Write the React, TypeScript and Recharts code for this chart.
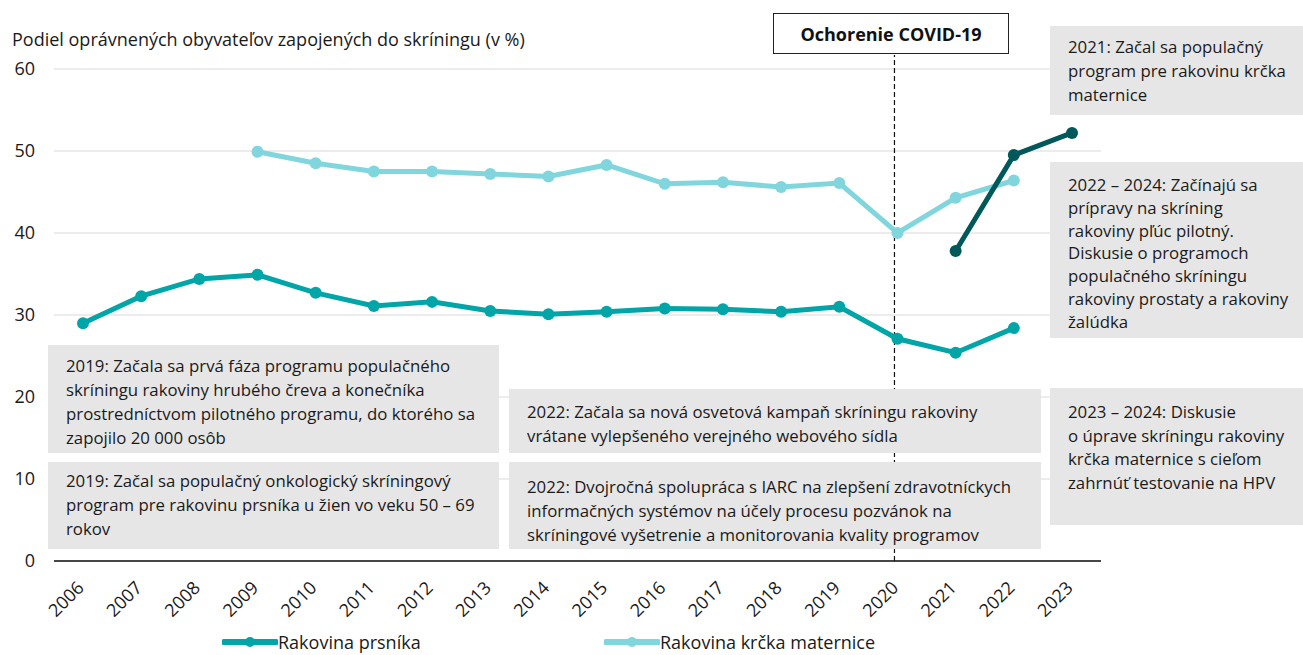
import React from "react";
import {
    CartesianGrid,
    Legend,
    Line,
    LineChart,
    ReferenceLine,
    XAxis,
    YAxis,
} from "recharts";

const years = ["2006", "2007", "2008", "2009", "2010", "2011", "2012", "2013", "2014", "2015", "2016", "2017", "2018", "2019", "2020", "2021", "2022", "2023"];
const breast = [29.0, 32.3, 34.4, 34.9, 32.7, 31.1, 31.6, 30.5, 30.1, 30.4, 30.8, 30.7, 30.4, 31.0, 27.1, 25.4, 28.4, null];
const cervical = [null, null, null, 49.9, 48.5, 47.5, 47.5, 47.2, 46.9, 48.3, 46.0, 46.2, 45.6, 46.1, 40.0, 44.3, 46.4, null];
const colorectal = [null, null, null, null, null, null, null, null, null, null, null, null, null, null, null, 37.8, 49.5, 52.2];
const yTicks = [0, 10, 20, 30, 40, 50, 60];

const yTitle = "Podiel oprávnených obyvateľov zapojených do skríningu (v %)";
const covidLabel = "Ochorenie COVID-19";
const breastName = "Rakovina prsníka";
const cervicalName = "Rakovina krčka maternice";

const noteColorectal2019 = [
    "2019: Začala sa prvá fáza programu populačného",
    "skríningu rakoviny hrubého čreva a konečníka",
    "prostredníctvom pilotného programu, do ktorého sa",
    "zapojilo 20 000 osôb",
];
const noteBreast2019 = [
    "2019: Začal sa populačný onkologický skríningový",
    "program pre rakovinu prsníka u žien vo veku 50 – 69",
    "rokov",
];
const noteCampaign2022 = [
    "2022: Začala sa nová osvetová kampaň skríningu rakoviny",
    "vrátane vylepšeného verejného webového sídla",
];
const noteIarc2022 = [
    "2022: Dvojročná spolupráca s IARC na zlepšení zdravotníckych",
    "informačných systémov na účely procesu pozvánok na",
    "skríningové vyšetrenie a monitorovania kvality programov",
];
const noteCervical2021 = [
    "2021: Začal sa populačný",
    "program pre rakovinu krčka",
    "maternice",
];
const noteLung2022 = [
    "2022 – 2024: Začínajú sa",
    "prípravy na skríning",
    "rakoviny pľúc pilotný.",
    "Diskusie o programoch",
    "populačného skríningu",
    "rakoviny prostaty a rakoviny",
    "žalúdka",
];
const noteHpv2023 = [
    "2023 – 2024: Diskusie",
    "o úprave skríningu rakoviny",
    "krčka maternice s cieľom",
    "zahrnúť testovanie na HPV",
];

const data = years.map((year, i) => ({
    year,
    breast: breast[i],
    cervical: cervical[i],
    colorectal: colorectal[i],
}));

const TEAL = "#00a5a8";
const LIGHT = "#80d6dc";
const DARK = "#00585a";
const TEXT = "#1a1a1a";
const FONT = "'Open Sans', sans-serif";

function Note({ lines, left, top, width, height, lineHeight = 24, padTop = 8 }: {
    lines: string[]; left: number; top: number; width: number; height: number; lineHeight?: number; padTop?: number;
}) {
    return (
        <div
            style={{
                position: "absolute",
                left,
                top,
                width,
                height,
                background: "#e6e6e6",
                boxSizing: "border-box",
                padding: `${padTop}px 0 0 18px`,
                fontSize: 16.8,
                lineHeight: `${lineHeight}px`,
                color: TEXT,
                whiteSpace: "nowrap",
            }}
        >
            {lines.map((l) => (
                <div key={l}>{l}</div>
            ))}
        </div>
    );
}

function XTick({ x, y, payload }: any) {
    return (
        <text
            transform={`translate(${x + 2},${y + 20}) rotate(-45)`}
            textAnchor="end"
            fontSize={18}
            fill={TEXT}
            fontFamily={FONT}
        >
            {payload.value}
        </text>
    );
}

function LegendContent() {
    const items = [
        { name: breastName, color: TEAL, left: 222 },
        { name: cervicalName, color: LIGHT, left: 604 },
    ];
    return (
        <div style={{ position: "relative", width: 1303, height: 26 }}>
            {items.map((it) => (
                <div
                    key={it.name}
                    style={{
                        position: "absolute",
                        left: it.left,
                        top: 1,
                        display: "flex",
                        alignItems: "center",
                        fontSize: 18,
                        color: TEXT,
                        fontFamily: FONT,
                    }}
                >
                    <svg width={56} height={14}>
                        <line x1={2} y1={7} x2={54} y2={7} stroke={it.color} strokeWidth={6} strokeLinecap="round" />
                        <circle cx={28} cy={7} r={5} fill={it.color} />
                    </svg>
                    <span>{it.name}</span>
                </div>
            ))}
        </div>
    );
}

export default function App() {
    return (
        <div style={{ position: "absolute", left: 0, top: 0, width: 1303, height: 655, fontFamily: FONT, background: "#fff" }}>
            <LineChart
                width={1303}
                height={655}
                data={data}
                margin={{ top: 69, right: 202, bottom: 0, left: 0 }}
            >
                <CartesianGrid vertical={false} stroke="#e6e6e6" strokeWidth={1.5} />
                <XAxis
                    dataKey="year"
                    height={68}
                    padding={{ left: 29, right: 29 }}
                    axisLine={{ stroke: "#111", strokeWidth: 1.5 }}
                    tickLine={false}
                    interval={0}
                    tick={<XTick />}
                />
                <YAxis
                    width={54}
                    domain={[0, 60]}
                    ticks={yTicks}
                    axisLine={false}
                    tickLine={false}
                    tickSize={0}
                    tickMargin={19}
                    tick={{ fill: TEXT, fontSize: 18, fontFamily: FONT }}
                />
                <ReferenceLine
                    segment={[{ x: "2020", y: 0 }, { x: "2020", y: 61.7 }]}
                    ifOverflow="visible"
                    stroke="#111"
                    strokeWidth={1.2}
                    strokeDasharray="5 3"
                    transform="translate(-3,0)"
                />
                <Legend verticalAlign="bottom" height={26} content={<LegendContent />} />
                <Line
                    dataKey="breast"
                    name={breastName}
                    stroke={TEAL}
                    strokeWidth={5}
                    dot={{ r: 6, fill: TEAL, stroke: TEAL, strokeWidth: 0 }}
                    activeDot={false}
                    isAnimationActive={false}
                />
                <Line
                    dataKey="cervical"
                    name={cervicalName}
                    stroke={LIGHT}
                    strokeWidth={5}
                    dot={{ r: 6, fill: LIGHT, stroke: LIGHT, strokeWidth: 0 }}
                    activeDot={false}
                    isAnimationActive={false}
                />
                <Line
                    dataKey="colorectal"
                    legendType="none"
                    stroke={DARK}
                    strokeWidth={5}
                    dot={{ r: 6, fill: DARK, stroke: DARK, strokeWidth: 0 }}
                    activeDot={false}
                    isAnimationActive={false}
                />
            </LineChart>

            <div style={{ position: "absolute", left: 12, top: 27, fontSize: 18, color: TEXT, whiteSpace: "nowrap" }}>
                {yTitle}
            </div>

            <div
                style={{
                    position: "absolute",
                    left: 773,
                    top: 13,
                    width: 236,
                    height: 41,
                    boxSizing: "border-box",
                    border: "1.5px solid #222",
                    background: "#fff",
                    display: "flex",
                    alignItems: "center",
                    justifyContent: "center",
                    fontWeight: 700,
                    fontSize: 18,
                    color: "#111",
                }}
            >
                {covidLabel}
            </div>

            <Note lines={noteColorectal2019} left={48} top={345} width={451} height={108} lineHeight={24} padTop={9} />
            <Note lines={noteBreast2019} left={48} top={462} width={451} height={87} lineHeight={24} padTop={7} />
            <Note lines={noteCampaign2022} left={509} top={389} width={532} height={64} lineHeight={24} padTop={11} />
            <Note lines={noteIarc2022} left={509} top={462} width={532} height={87} lineHeight={24} padTop={13} />
            <Note lines={noteCervical2021} left={1050} top={26} width={253} height={89} lineHeight={24} padTop={9} />
            <Note lines={noteLung2022} left={1050} top={162} width={253} height={176} lineHeight={22.8} padTop={12} />
            <Note lines={noteHpv2023} left={1050} top={388} width={253} height={137} lineHeight={23.5} padTop={12} />
        </div>
    );
}
